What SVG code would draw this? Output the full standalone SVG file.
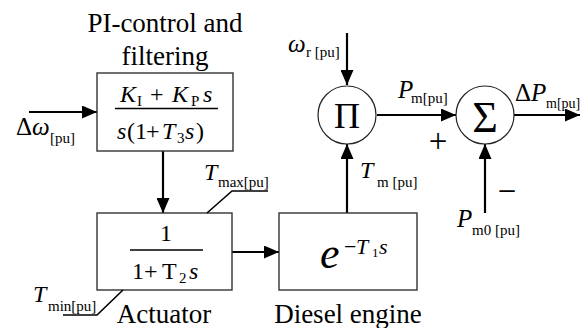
<svg xmlns="http://www.w3.org/2000/svg" width="581" height="328" viewBox="0 0 581 328" font-family="'Liberation Serif', 'DejaVu Serif', serif">
<defs>
<style>
text, tspan { font-family: 'Liberation Serif', 'DejaVu Serif', serif; fill: #000; }
.lbl { font-size: 27px; }
.it { font-style: italic; }
.sub { font-size: 15px; font-style: normal; }
.box { fill: #fff; stroke: #333; stroke-width: 1.4; }
.circ { fill: #fff; stroke: #222; stroke-width: 1.2; }
.conn { stroke: #000; stroke-width: 2.2; fill: none; }
.lead { stroke: #000; stroke-width: 1.6; fill: none; }
</style>
<marker id="ah" markerUnits="userSpaceOnUse" markerWidth="15" markerHeight="13" refX="15" refY="6.5" orient="auto">
<path d="M0,0 L15,6.5 L0,13 z" fill="#000"/>
</marker>
</defs>
<rect width="581" height="328" fill="#fff"/>

<g id="connectors">
<line class="conn" x1="29" y1="112" x2="97" y2="112" marker-end="url(#ah)"/>
<line class="conn" x1="163" y1="151" x2="163" y2="213" marker-end="url(#ah)"/>
<line class="conn" x1="232" y1="252" x2="279" y2="252" marker-end="url(#ah)"/>
<line class="conn" x1="347" y1="213" x2="347" y2="144" marker-end="url(#ah)"/>
<line class="conn" x1="347" y1="33" x2="347" y2="85" marker-end="url(#ah)"/>
<line class="conn" x1="377" y1="115" x2="456" y2="115" marker-end="url(#ah)"/>
<line class="conn" x1="514" y1="115" x2="580" y2="115" marker-end="url(#ah)"/>
<line class="conn" x1="485" y1="213" x2="485" y2="144" marker-end="url(#ah)"/>
</g>

<g id="pi-control">
<text class="lbl" x="165" y="32" text-anchor="middle">PI-control and</text>
<text class="lbl" x="165" y="65" text-anchor="middle">filtering</text>
<rect class="box" x="97" y="73" width="136" height="78"/>
<text style="font-size:24px"><tspan class="it" x="120" y="102">K</tspan><tspan class="sub" x="137" y="106">I</tspan><tspan x="150" y="102">+</tspan><tspan class="it" x="172" y="102">K</tspan><tspan class="sub" x="191" y="106">P</tspan><tspan class="it" x="203" y="102">s</tspan></text>
<line x1="115" y1="108.5" x2="218" y2="108.5" stroke="#000" stroke-width="1.4"/>
<text style="font-size:24px"><tspan class="it" x="117" y="139">s</tspan><tspan x="127" y="139">(1</tspan><tspan x="146" y="139">+</tspan><tspan class="it" x="162" y="139">T</tspan><tspan class="sub" x="177" y="143">3</tspan><tspan class="it" x="185" y="139">s</tspan><tspan x="196" y="139">)</tspan></text>
</g>

<g id="input-label">
<text style="font-size:25px"><tspan x="16" y="135">Δ</tspan><tspan class="it" x="32" y="135">ω</tspan><tspan class="sub" x="50" y="143">[pu]</tspan></text>
</g>

<g id="actuator">
<rect class="box" x="97" y="213" width="135" height="77"/>
<text style="font-size:24px" x="166" y="241" text-anchor="middle">1</text>
<line x1="130" y1="250" x2="203" y2="250" stroke="#000" stroke-width="1.4"/>
<text style="font-size:24px"><tspan x="132" y="279">1</tspan><tspan x="144" y="279">+</tspan><tspan x="162" y="279">T</tspan><tspan class="sub" x="179" y="283">2</tspan><tspan class="it" x="189" y="279">s</tspan></text>
<text class="lbl" x="164" y="323" text-anchor="middle">Actuator</text>
<polyline class="lead" points="207,213 232,191 268,191"/>
<text style="font-size:24px"><tspan class="it" x="204" y="180">T</tspan><tspan class="sub" x="218" y="187">max[pu]</tspan></text>
<polyline class="lead" points="123,290 97,315 63,315"/>
<text style="font-size:24px"><tspan class="it" x="33" y="302">T</tspan><tspan class="sub" x="48" y="311">min[pu]</tspan></text>
</g>

<g id="diesel-engine">
<rect class="box" x="279" y="213" width="138" height="77"/>
<text><tspan class="it" style="font-size:44px" x="320" y="268">e</tspan><tspan style="font-size:22px" x="344" y="254">−</tspan><tspan class="it" style="font-size:22px" x="356" y="254">T</tspan><tspan class="sub" style="font-size:13px" x="372" y="257">1</tspan><tspan class="it" style="font-size:22px" x="379" y="254">s</tspan></text>
<text class="lbl" x="348" y="323" text-anchor="middle">Diesel engine</text>
<text style="font-size:24px"><tspan class="it" x="360" y="178">T</tspan><tspan class="sub" x="377" y="187">m [pu]</tspan></text>
</g>

<g id="product">
<circle class="circ" cx="347" cy="115" r="29"/>
<text x="347" y="128" text-anchor="middle" style="font-size:36px">Π</text>
<text style="font-size:25px"><tspan class="it" x="288" y="52">ω</tspan><tspan class="sub" x="306" y="57">r [pu]</tspan></text>
</g>

<g id="sum">
<circle class="circ" cx="485" cy="115" r="29"/>
<text x="485" y="132" text-anchor="middle" style="font-size:44px">Σ</text>
<text style="font-size:25px"><tspan class="it" x="398" y="98">P</tspan><tspan class="sub" x="411" y="103">m[pu]</tspan></text>
<text x="438" y="152" text-anchor="middle" style="font-size:33px">+</text>
<text style="font-size:25px"><tspan x="515" y="101">Δ</tspan><tspan class="it" x="531" y="101">P</tspan><tspan class="sub" style="font-size:14px" x="546" y="108">m[pu]</tspan></text>
<text x="507" y="202" text-anchor="middle" style="font-size:33px">−</text>
<text style="font-size:25px"><tspan class="it" x="457" y="227">P</tspan><tspan class="sub" x="472" y="235">m0 [pu]</tspan></text>
</g>
</svg>
